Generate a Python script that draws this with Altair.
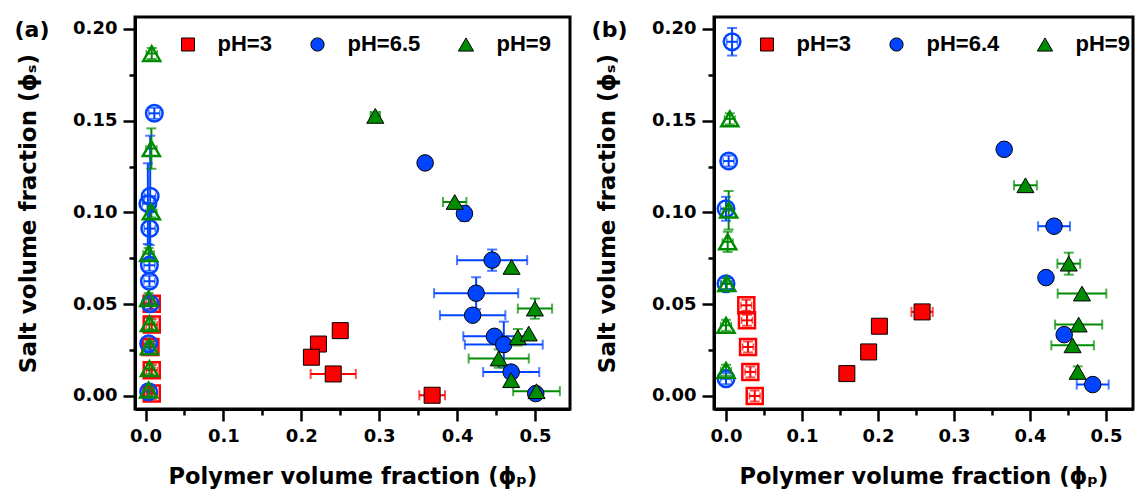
import altair as alt
import pandas as pd

# ---------------------------------------------------------------- styling
RED, BLUE, GREEN = "#ff0000", "#0044ff", "#008c00"
SERIES_COLORS = [RED, BLUE, GREEN]
SERIES_SHAPES = ["square", "circle", "triangle-up"]
DENSE_SIZES = [256, 290, 360]
DILUTE_SIZES = [200, 190, 360]
LEGEND_SIZES = [169, 175, 230]

AXIS_FONT = "DejaVu Sans"
LEGEND_FONT = "Liberation Sans"

PLOT_H = 392
A_WIDTH = 435
B_WIDTH = 419

# ---------------------------------------------------------------- axes
Y_DOMAIN = [-0.0071, 0.2065]
A_X_DOMAIN = [-0.0135, 0.545]
B_X_DOMAIN = [-0.0158, 0.5355]

X_MAJOR = [0.0, 0.1, 0.2, 0.3, 0.4, 0.5]
X_MINOR = [0.05, 0.15, 0.25, 0.35, 0.45]
Y_MAJOR = [0.0, 0.05, 0.10, 0.15, 0.20]
Y_MINOR = [0.025, 0.075, 0.125, 0.175]

X_TITLE = "Polymer volume fraction (ϕₚ)"
Y_TITLE = "Salt volume fraction (ϕₛ)"

# ---------------------------------------------------------------- panel (a)
A_TAG = "(a)"
A_LABELS = ["pH=3", "pH=6.5", "pH=9"]

A_PH3_DENSE_X = [0.250, 0.222, 0.213, 0.241, 0.368]
A_PH3_DENSE_Y = [0.0356, 0.0283, 0.0211, 0.0120, 0.0004]
A_PH3_DENSE_XERR = [0.0, 0.0, 0.0, 0.029, 0.0165]
A_PH3_DENSE_YERR = [0.0, 0.0, 0.0, 0.0, 0.0]
A_PH3_DILUTE_X = [0.008, 0.008, 0.0063, 0.008, 0.008]
A_PH3_DILUTE_Y = [0.0503, 0.0389, 0.0267, 0.0140, 0.0013]
A_PH3_DILUTE_XERR = [0.007, 0.007, 0.007, 0.007, 0.007]
A_PH3_DILUTE_YERR = [0.003, 0.003, 0.003, 0.003, 0.003]

A_PH65_DENSE_X = [0.359, 0.4095, 0.445, 0.4245, 0.420, 0.448, 0.460, 0.4695, 0.501]
A_PH65_DENSE_Y = [0.127, 0.0994, 0.074, 0.056, 0.044, 0.0325, 0.028, 0.013, 0.0013]
A_PH65_DENSE_XERR = [0.0, 0.0, 0.045, 0.054, 0.042, 0.040, 0.050, 0.036, 0.0]
A_PH65_DENSE_YERR = [0.0, 0.004, 0.0058, 0.0087, 0.0, 0.0, 0.0125, 0.0, 0.0]
A_PH65_DILUTE_X = [0.0113, 0.006, 0.003, 0.0054, 0.005, 0.005, 0.006, 0.004, 0.004]
A_PH65_DILUTE_Y = [0.154, 0.1088, 0.1048, 0.0912, 0.0712, 0.0625, 0.0503, 0.0285, 0.0023]
A_PH65_DILUTE_XERR = [0.007, 0.007, 0.007, 0.007, 0.007, 0.007, 0.007, 0.007, 0.007]
A_PH65_DILUTE_YERR = [0.003, 0.033, 0.022, 0.009, 0.003, 0.003, 0.003, 0.003, 0.003]

A_PH9_DENSE_X = [0.295, 0.397, 0.470, 0.500, 0.478, 0.492, 0.4535, 0.4695, 0.502]
A_PH9_DENSE_Y = [0.1526, 0.1057, 0.0703, 0.0476, 0.032, 0.034, 0.0204, 0.0086, 0.0026]
A_PH9_DENSE_XERR = [0.006, 0.015, 0.0, 0.022, 0.0, 0.0, 0.0386, 0.0, 0.030]
A_PH9_DENSE_YERR = [0.002, 0.0, 0.0, 0.0055, 0.0045, 0.0, 0.005, 0.0, 0.0]
A_PH9_DILUTE_X = [0.008, 0.0075, 0.0075, 0.004, 0.004, 0.005, 0.005, 0.005, 0.004]
A_PH9_DILUTE_Y = [0.1866, 0.1348, 0.1003, 0.0776, 0.053, 0.0394, 0.0267, 0.0149, 0.0032]
A_PH9_DILUTE_XERR = [0.007, 0.007, 0.007, 0.007, 0.007, 0.007, 0.007, 0.007, 0.007]
A_PH9_DILUTE_YERR = [0.003, 0.011, 0.003, 0.003, 0.003, 0.003, 0.003, 0.003, 0.003]

# ---------------------------------------------------------------- panel (b)
B_TAG = "(b)"
B_LABELS = ["pH=3", "pH=6.4", "pH=9"]

B_PH3_DENSE_X = [0.258, 0.2018, 0.1877, 0.159]
B_PH3_DENSE_Y = [0.0458, 0.038, 0.024, 0.0122]
B_PH3_DENSE_XERR = [0.014, 0.0, 0.0, 0.0]
B_PH3_DENSE_YERR = [0.0, 0.0, 0.0, 0.0]
B_PH3_DILUTE_X = [0.0267, 0.0276, 0.029, 0.032, 0.0378]
B_PH3_DILUTE_Y = [0.0494, 0.0412, 0.0267, 0.0131, 0.0000]
B_PH3_DILUTE_XERR = [0.007, 0.007, 0.007, 0.007, 0.007]
B_PH3_DILUTE_YERR = [0.003, 0.003, 0.003, 0.003, 0.003]

B_PH64_DENSE_X = [0.366, 0.4316, 0.421, 0.445, 0.4825]
B_PH64_DENSE_Y = [0.1344, 0.0925, 0.0645, 0.0334, 0.0062]
B_PH64_DENSE_XERR = [0.0, 0.021, 0.0, 0.0, 0.021]
B_PH64_DENSE_YERR = [0.0, 0.0, 0.0, 0.0, 0.0]
B_PH64_DILUTE_X = [0.008, 0.0035, 0.0, 0.0, 0.0]
B_PH64_DILUTE_Y = [0.193, 0.128, 0.102, 0.0612, 0.0094]
B_PH64_DILUTE_XERR = [0.007, 0.007, 0.007, 0.007, 0.007]
B_PH64_DILUTE_YERR = [0.0075, 0.003, 0.0065, 0.003, 0.003]

B_PH9_DENSE_X = [0.394, 0.451, 0.4684, 0.464, 0.456, 0.4627]
B_PH9_DENSE_Y = [0.1148, 0.0721, 0.0558, 0.0389, 0.0276, 0.0131]
B_PH9_DENSE_XERR = [0.015, 0.015, 0.032, 0.031, 0.028, 0.0]
B_PH9_DENSE_YERR = [0.0, 0.006, 0.0, 0.0, 0.0, 0.003]
B_PH9_DILUTE_X = [0.005, 0.0035, 0.0022, 0.001, 0.0, 0.0]
B_PH9_DILUTE_Y = [0.151, 0.1012, 0.084, 0.0612, 0.0385, 0.014]
B_PH9_DILUTE_XERR = [0.007, 0.007, 0.007, 0.007, 0.007, 0.007]
B_PH9_DILUTE_YERR = [0.003, 0.0105, 0.0055, 0.003, 0.003, 0.003]

# legend placement inside each plot (pixels from the plot's top-left corner)
LEGEND_SYM_X = [53, 182.5, 331]
LEGEND_TXT_X = [82.5, 212.5, 361.5]
LEGEND_SYM_Y = 27.5
LEGEND_TXT_Y = 33.5


def build(labels, groups):
    rows = []
    for label, g in zip(labels, groups):
        for phase, (xs, ys, xe, ye) in g.items():
            for x, y, dx, dy in zip(xs, ys, xe, ye):
                rows.append(dict(ph=label, phase=phase, x=x, y=y,
                                 xerr=dx, yerr=dy,
                                 xlo=x - dx, xhi=x + dx,
                                 ylo=y - dy, yhi=y + dy))
    return pd.DataFrame(rows)


A_DF = build(A_LABELS, [
    {"dense": (A_PH3_DENSE_X, A_PH3_DENSE_Y, A_PH3_DENSE_XERR, A_PH3_DENSE_YERR),
     "dilute": (A_PH3_DILUTE_X, A_PH3_DILUTE_Y, A_PH3_DILUTE_XERR, A_PH3_DILUTE_YERR)},
    {"dense": (A_PH65_DENSE_X, A_PH65_DENSE_Y, A_PH65_DENSE_XERR, A_PH65_DENSE_YERR),
     "dilute": (A_PH65_DILUTE_X, A_PH65_DILUTE_Y, A_PH65_DILUTE_XERR, A_PH65_DILUTE_YERR)},
    {"dense": (A_PH9_DENSE_X, A_PH9_DENSE_Y, A_PH9_DENSE_XERR, A_PH9_DENSE_YERR),
     "dilute": (A_PH9_DILUTE_X, A_PH9_DILUTE_Y, A_PH9_DILUTE_XERR, A_PH9_DILUTE_YERR)},
])

B_DF = build(B_LABELS, [
    {"dense": (B_PH3_DENSE_X, B_PH3_DENSE_Y, B_PH3_DENSE_XERR, B_PH3_DENSE_YERR),
     "dilute": (B_PH3_DILUTE_X, B_PH3_DILUTE_Y, B_PH3_DILUTE_XERR, B_PH3_DILUTE_YERR)},
    {"dense": (B_PH64_DENSE_X, B_PH64_DENSE_Y, B_PH64_DENSE_XERR, B_PH64_DENSE_YERR),
     "dilute": (B_PH64_DILUTE_X, B_PH64_DILUTE_Y, B_PH64_DILUTE_XERR, B_PH64_DILUTE_YERR)},
    {"dense": (B_PH9_DENSE_X, B_PH9_DENSE_Y, B_PH9_DENSE_XERR, B_PH9_DENSE_YERR),
     "dilute": (B_PH9_DILUTE_X, B_PH9_DILUTE_Y, B_PH9_DILUTE_XERR, B_PH9_DILUTE_YERR)},
])

ONE = pd.DataFrame({"k": [0]})


def panel(df, labels, tag, tag_x, x_domain, width, anchor=False):
    xs = alt.Scale(domain=x_domain, nice=False, zero=False)
    ys = alt.Scale(domain=Y_DOMAIN, nice=False, zero=False)
    color = alt.Color("ph:N", scale=alt.Scale(domain=labels, range=SERIES_COLORS), legend=None)
    shape = alt.Shape("ph:N", scale=alt.Scale(domain=labels, range=SERIES_SHAPES), legend=None)

    def X(field, axis=None):
        return alt.X(field, type="quantitative", scale=xs, axis=axis)

    def Y(field, axis=None):
        return alt.Y(field, type="quantitative", scale=ys, axis=axis)

    base = alt.Chart(df)

    minor_axes = base.mark_point(opacity=0).encode(
        x=X("x", alt.Axis(values=X_MINOR, labels=False, domain=False, tickSize=6,
                          title=None, orient="bottom")),
        y=Y("y", alt.Axis(values=Y_MINOR, labels=False, domain=False, tickSize=6,
                          title=None, orient="left")),
    )
    major_axes = base.mark_point(opacity=0).encode(
        x=X("x", alt.Axis(values=X_MAJOR, format=".1f", title=X_TITLE, tickSize=12,
                          orient="bottom")),
        y=Y("y", alt.Axis(values=Y_MAJOR, format=".2f", title=Y_TITLE, tickSize=12,
                          orient="left")),
    )

    # horizontal error bars with end caps
    has_x = base.transform_filter("datum.xerr > 0")
    xbars = has_x.mark_rule(strokeWidth=2).encode(x=X("xlo"), x2="xhi:Q", y=Y("y"), color=color)
    xcaps_dense = (has_x.transform_filter("datum.phase == 'dense'")
                   .transform_fold(["xlo", "xhi"], as_=["side", "xc"])
                   .mark_tick(orient="vertical", size=10, thickness=2)
                   .encode(x=X("xc"), y=Y("y"), color=color))
    xcaps_dilute = (has_x.transform_filter("datum.phase == 'dilute'")
                    .transform_fold(["xlo", "xhi"], as_=["side", "xc"])
                    .mark_tick(orient="vertical", size=7, thickness=1.5)
                    .encode(x=X("xc"), y=Y("y"), color=color))

    # vertical error bars with end caps
    has_y = base.transform_filter("datum.yerr > 0")
    ybars = has_y.mark_rule(strokeWidth=2).encode(x=X("x"), y=Y("ylo"), y2="yhi:Q", color=color)
    ycaps = (has_y.transform_fold(["ylo", "yhi"], as_=["side", "yc"])
             .mark_tick(orient="horizontal", size=10, thickness=2)
             .encode(x=X("x"), y=Y("yc"), color=color))

    dense = (base.transform_filter("datum.phase == 'dense'")
             .mark_point(filled=True, stroke="black", strokeWidth=1, opacity=1)
             .encode(x=X("x"), y=Y("y"), color=color, shape=shape,
                     size=alt.Size("ph:N", scale=alt.Scale(domain=labels, range=DENSE_SIZES),
                                   legend=None)))
    dilute = (base.transform_filter("datum.phase == 'dilute'")
              .mark_point(filled=False, strokeWidth=2.5, opacity=1)
              .encode(x=X("x"), y=Y("y"), color=color, shape=shape,
                      size=alt.Size("ph:N", scale=alt.Scale(domain=labels, range=DILUTE_SIZES),
                                    legend=None)))

    legend = []
    for i, label in enumerate(labels):
        legend.append(
            alt.Chart(ONE).mark_point(filled=True, opacity=1, stroke="black", strokeWidth=1,
                                      shape=SERIES_SHAPES[i], color=SERIES_COLORS[i],
                                      size=LEGEND_SIZES[i])
            .encode(x=alt.value(LEGEND_SYM_X[i]), y=alt.value(LEGEND_SYM_Y))
        )
        legend.append(
            alt.Chart(ONE).mark_text(text=label, font=LEGEND_FONT, fontSize=22,
                                     fontWeight="bold", color="black",
                                     align="left", baseline="alphabetic")
            .encode(x=alt.value(LEGEND_TXT_X[i]), y=alt.value(LEGEND_TXT_Y))
        )

    tag_mark = (alt.Chart(ONE)
                .mark_text(text=tag, font=AXIS_FONT, fontSize=22, fontWeight="bold",
                           color="black", align="center", baseline="middle")
                .encode(x=alt.value(tag_x), y=alt.value(13)))

    layers = [minor_axes, major_axes, xbars, xcaps_dense, xcaps_dilute, ybars, ycaps,
              dense, dilute, *legend, tag_mark]
    if anchor:
        # fixes the top-left corner of the whole figure relative to this plot
        layers.append(alt.Chart(ONE).mark_rule(opacity=0, strokeWidth=0)
                      .encode(x=alt.value(-133), x2=alt.value(-133),
                              y=alt.value(-15), y2=alt.value(-15)))

    return (alt.layer(*layers)
            .resolve_axis(x="independent", y="independent")
            .properties(width=width, height=PLOT_H))


left = panel(A_DF, A_LABELS, A_TAG, -103, A_X_DOMAIN, A_WIDTH, anchor=True)
right = panel(B_DF, B_LABELS, B_TAG, -104.5, B_X_DOMAIN, B_WIDTH)

chart = (
    alt.hconcat(left, right, spacing=144, bounds="flush", padding=0)
    .resolve_scale(color="independent", shape="independent", size="independent")
    .configure_view(stroke="black", strokeWidth=3)
    .configure_axis(
        grid=False,
        domainColor="black", domainWidth=3,
        tickColor="black", tickWidth=2.5,
        labelFont=AXIS_FONT, labelFontSize=18, labelFontWeight="bold",
        labelColor="black", labelPadding=6, labelFlush=False,
        titleFont=AXIS_FONT, titleFontWeight="bold", titleColor="black",
    )
    .configure_axisX(titlePadding=20, titleFontSize=22.5)
    .configure_axisY(titlePadding=32, titleFontSize=23)
)

chart.save("out.html", embed_options={"renderer": "svg", "actions": False})
